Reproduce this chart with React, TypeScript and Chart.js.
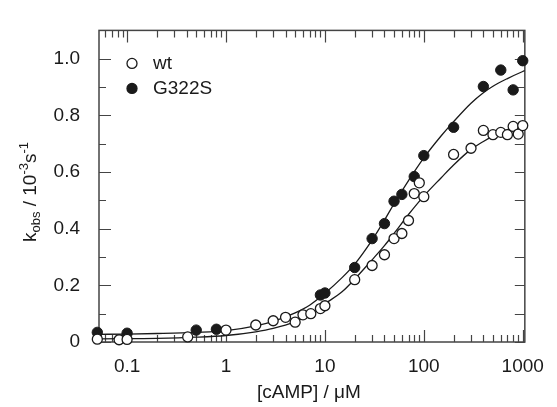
import React, { useEffect, useRef } from "react";
import { Chart, registerables } from "chart.js";
Chart.register(...registerables);

// ---- data ----
const xTickValues = [0.1, 1, 10, 100, 1000];
const yTickValues = [0, 0.2, 0.4, 0.6, 0.8, 1.0];

const wtConc = [0.05, 0.083, 0.1, 0.41, 1, 2, 3, 4, 5, 6, 7.2, 9, 10, 20, 30, 40, 50, 60, 70, 80, 90, 100, 200, 300, 400, 500, 600, 700, 800, 900, 1000];
const wtKobs = [0.01, 0.008, 0.009, 0.018, 0.042, 0.06, 0.075, 0.087, 0.07, 0.096, 0.1, 0.118, 0.128, 0.22, 0.27, 0.308, 0.365, 0.383, 0.429, 0.524, 0.562, 0.513, 0.662, 0.684, 0.747, 0.732, 0.74, 0.732, 0.761, 0.734, 0.764];

const g322sConc = [0.05, 0.1, 0.5, 0.8, 9, 10, 20, 30, 40, 50, 60, 80, 100, 200, 400, 600, 800, 1000];
const g322sKobs = [0.034, 0.031, 0.042, 0.045, 0.166, 0.173, 0.263, 0.365, 0.418, 0.497, 0.521, 0.584, 0.658, 0.758, 0.902, 0.96, 0.89, 0.993];

const fitConc = [0.05, 0.1, 0.2, 0.5, 1, 2, 3, 5, 7, 10, 15, 20, 30, 40, 50, 70, 100, 150, 200, 300, 400, 500, 700, 1000, 1050];
const wtFit = [0.011, 0.012, 0.013, 0.017, 0.023, 0.036, 0.048, 0.072, 0.097, 0.135, 0.178, 0.222, 0.29, 0.34, 0.383, 0.45, 0.515, 0.58, 0.625, 0.68, 0.708, 0.727, 0.75, 0.766, 0.768];
const g322sFit = [0.027, 0.028, 0.03, 0.034, 0.04, 0.057, 0.073, 0.103, 0.13, 0.172, 0.228, 0.275, 0.36, 0.43, 0.488, 0.57, 0.65, 0.728, 0.778, 0.843, 0.88, 0.903, 0.93, 0.955, 0.958];

const legendLabels = ["wt", "G322S"];
const xTitle = "[cAMP] / μM";

const FONT = "'Liberation Sans', Arial, Helvetica, sans-serif";
const INK = "#1a1a1a";
const AXIS = "#444";

const decorPlugin = {
  id: "decor",
  beforeDatasetsDraw(chart: any) {
    const { ctx, chartArea: a, scales } = chart;
    const xs = scales.x;
    const ys = scales.y;
    ctx.save();
    ctx.strokeStyle = AXIS;
    ctx.lineWidth = 1.5;
    ctx.strokeRect(a.left, a.top, a.right - a.left, a.bottom - a.top);
    ctx.lineWidth = 1.2;
    ctx.beginPath();
    for (let e = -2; e <= 3; e++) {
      for (let k = 1; k <= 9; k++) {
        const v = k * Math.pow(10, e);
        if (v < xs.min || v > xs.max) continue;
        const px = Math.round(xs.getPixelForValue(v)) + 0.5;
        const len = k === 1 ? 12 : 7;
        ctx.moveTo(px, a.bottom);
        ctx.lineTo(px, a.bottom - len);
        ctx.moveTo(px, a.top);
        ctx.lineTo(px, a.top + len);
      }
    }
    for (let i = 0; i <= 11; i++) {
      const v = i / 10;
      const py = Math.round(ys.getPixelForValue(v)) + 0.5;
      const len = i % 2 === 0 ? 12 : 7;
      ctx.moveTo(a.left, py);
      ctx.lineTo(a.left + len, py);
      ctx.moveTo(a.right, py);
      ctx.lineTo(a.right - 10, py);
    }
    ctx.stroke();
    ctx.restore();
  },
  afterDraw(chart: any) {
    const { ctx, chartArea: a } = chart;
    ctx.save();
    const lx = a.left + 33;
    const items = [
      { y: a.top + 33, fill: "#ffffff" },
      { y: a.top + 58, fill: INK },
    ];
    items.forEach((it, i) => {
      ctx.beginPath();
      ctx.arc(lx, it.y, 5, 0, Math.PI * 2);
      ctx.fillStyle = it.fill;
      ctx.fill();
      ctx.strokeStyle = INK;
      ctx.lineWidth = 1.3;
      ctx.stroke();
      ctx.fillStyle = INK;
      ctx.font = `19px ${FONT}`;
      ctx.textBaseline = "middle";
      ctx.textAlign = "left";
      ctx.fillText(legendLabels[i], lx + 21, it.y);
    });
    ctx.font = `19px ${FONT}`;
    ctx.textAlign = "center";
    ctx.textBaseline = "middle";
    ctx.fillStyle = INK;
    ctx.fillText(xTitle, (a.left + a.right) / 2 - 3, 393);
    const segs: [string, string][] = [
      ["k", "n"], ["obs", "sub"], [" / 10", "n"], ["-3", "sup"], ["s", "n"], ["-1", "sup"],
    ];
    const fontFor = (t: string) => (t === "n" ? `19px ${FONT}` : `13px ${FONT}`);
    let total = 0;
    segs.forEach(([s, t]) => { ctx.font = fontFor(t); total += ctx.measureText(s).width; });
    ctx.translate(29, 192);
    ctx.rotate(-Math.PI / 2);
    ctx.textAlign = "left";
    ctx.textBaseline = "alphabetic";
    let cx = -total / 2;
    segs.forEach(([s, t]) => {
      ctx.font = fontFor(t);
      const dy = t === "sub" ? 4 : t === "sup" ? -8 : 0;
      ctx.fillText(s, cx, 7 + dy);
      cx += ctx.measureText(s).width;
    });
    ctx.restore();
  },
};

export default function App() {
  const ref = useRef<HTMLCanvasElement | null>(null);
  useEffect(() => {
    if (!ref.current) return;
    const pts = (xs: number[], ys: number[]) => xs.map((x, i) => ({ x, y: ys[i] }));
    const chart = new Chart(ref.current, {
      type: "scatter",
      data: {
        datasets: [
          {
            label: "wt fit",
            data: pts(fitConc, wtFit),
            showLine: true,
            borderColor: INK,
            borderWidth: 1.3,
            pointRadius: 0,
            cubicInterpolationMode: "monotone",
            order: 3,
          } as any,
          {
            label: "G322S fit",
            data: pts(fitConc, g322sFit),
            showLine: true,
            borderColor: INK,
            borderWidth: 1.3,
            pointRadius: 0,
            cubicInterpolationMode: "monotone",
            order: 3,
          } as any,
          {
            label: legendLabels[1],
            data: pts(g322sConc, g322sKobs),
            pointRadius: 5.2,
            pointBackgroundColor: INK,
            pointBorderColor: INK,
            pointBorderWidth: 1,
            clip: false,
            order: 2,
          } as any,
          {
            label: legendLabels[0],
            data: pts(wtConc, wtKobs),
            pointRadius: 5,
            pointBackgroundColor: "#ffffff",
            pointBorderColor: INK,
            pointBorderWidth: 1.3,
            clip: false,
            order: 1,
          } as any,
        ],
      },
      options: {
        animation: false,
        responsive: true,
        maintainAspectRatio: false,
        layout: { padding: { left: 0, right: 27, top: 10, bottom: 0 } },
        plugins: { legend: { display: false }, tooltip: { enabled: false }, title: { display: false } },
        scales: {
          x: {
            type: "logarithmic",
            min: 0.052,
            max: 1050,
            grid: { display: false, drawTicks: false },
            border: { display: false },
            afterBuildTicks: (s: any) => { s.ticks = xTickValues.map((v) => ({ value: v, major: true })); },
            afterFit: (s: any) => { s.height = 65; },
            ticks: {
              autoSkip: false,
              maxRotation: 0,
              padding: 13,
              color: INK,
              font: { family: FONT, size: 19 },
              callback: (v: any) => String(v),
            },
          },
          y: {
            type: "linear",
            min: 0,
            max: 1.1,
            grid: { display: false, drawTicks: false },
            border: { display: false },
            afterBuildTicks: (s: any) => { s.ticks = yTickValues.map((v) => ({ value: v })); },
            afterFit: (s: any) => { s.width = 99; },
            ticks: {
              padding: 19,
              color: INK,
              font: { family: FONT, size: 19 },
              callback: (v: any) => (Number(v) === 0 ? "0" : Number(v).toFixed(1)),
            },
          },
        },
      } as any,
      plugins: [decorPlugin],
    });
    return () => chart.destroy();
  }, []);
  return (
    <div style={{ position: "fixed", left: 0, top: 0, width: 557, height: 407, background: "#fff" }}>
      <canvas ref={ref} />
    </div>
  );
}
